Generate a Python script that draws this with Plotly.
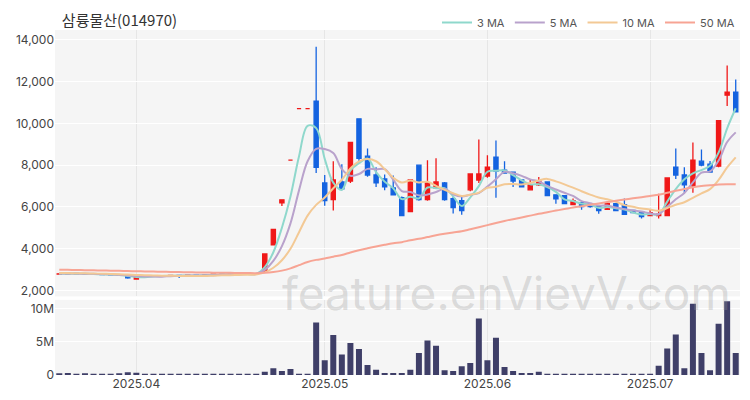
import pandas as pd
import plotly.graph_objects as go
from plotly.subplots import make_subplots

TITLE = "삼륭물산(014970)"

holidays = ["2025-05-01", "2025-05-05", "2025-05-06", "2025-06-03", "2025-06-06"]
days = [d for d in pd.bdate_range("2025-03-19", "2025-07-15").strftime("%Y-%m-%d") if d not in holidays]

# closes before the visible window, only used to warm up the moving averages
hist_close = [3200, 3180, 3190, 3170, 3150, 3160, 3140, 3120, 3130, 3110,
              3100, 3090, 3100, 3080, 3070, 3060, 3070, 3050, 3040, 3030,
              3040, 3020, 3010, 3000, 3010, 2990, 2980, 2970, 2980, 2960,
              2950, 2940, 2950, 2930, 2920, 2910, 2920, 2900, 2890, 2880,
              2890, 2870, 2860, 2850, 2860, 2840, 2830, 2820, 2800]

opens = [2790, 2800, 2820, 2800, 2790, 2770, 2760, 2750, 2720, 2550,
         2630, 2680, 2700, 2710, 2720, 2700, 2730, 2720, 2750, 2780,
         2770, 2780, 2790, 2800, 2880, 4180, 6200, 8240, 10710, 10710,
         11070, 7150, 6350, 7200, 7240, 10220, 8430, 7530, 7340, 6910,
         6440, 5780, 8000, 6350, 6910, 7150, 6400, 6300, 6820, 7290,
         7480, 8380, 7760, 7670, 7290, 6820, 7060, 7200, 6580, 6540,
         6110, 6210, 6160, 6020, 5880, 6160, 6110, 5830, 5780, 5590,
         5590, 5590, 7900, 7530, 7010, 8190, 8050, 7950, 11350, 11500]
highs = [2830, 2850, 2840, 2820, 2810, 2800, 2790, 2770, 2730, 2650,
         2690, 2720, 2730, 2740, 2730, 2740, 2750, 2760, 2790, 2800,
         2790, 2800, 2810, 2830, 3750, 4930, 6340, 8240, 10710, 10710,
         13670, 7530, 8190, 8050, 9100, 10250, 8800, 7900, 7550, 7500,
         6500, 7300, 8000, 8240, 8330, 7200, 6500, 6500, 7600, 9230,
         8470, 9180, 8190, 7700, 7300, 7340, 7430, 7220, 6600, 6560,
         6400, 6220, 6170, 6030, 6200, 6170, 6400, 5840, 5790, 5880,
         6630, 7400, 8800, 7900, 9090, 8750, 8200, 10130, 12770, 12100]
lows = [2770, 2780, 2790, 2770, 2760, 2740, 2730, 2700, 2560, 2530,
        2620, 2660, 2680, 2690, 2600, 2690, 2700, 2710, 2740, 2760,
        2750, 2760, 2770, 2780, 2850, 4180, 6050, 8240, 10710, 10710,
        7620, 6060, 5830, 6800, 7150, 8100, 7450, 6950, 6800, 6550,
        5580, 5780, 6300, 6300, 6900, 6300, 5690, 5630, 6750, 7150,
        7400, 6440, 7600, 6950, 6960, 6800, 7000, 6540, 6150, 6160,
        6100, 5870, 5960, 5680, 5850, 5830, 5640, 5700, 5450, 5580,
        5450, 5590, 7340, 6680, 6680, 7950, 7650, 7900, 10830, 10550]
closes = [2800, 2820, 2800, 2790, 2770, 2760, 2750, 2720, 2600, 2630,
          2680, 2700, 2710, 2720, 2700, 2730, 2720, 2750, 2780, 2770,
          2780, 2790, 2800, 2810, 3750, 4930, 6340, 8240, 10710, 10710,
          7900, 6300, 7290, 6870, 9090, 8330, 7530, 7150, 6960, 6580,
          5590, 7290, 6350, 7150, 7200, 6350, 5970, 5830, 7580, 7580,
          7900, 7720, 7620, 7240, 6960, 7060, 7240, 6540, 6390, 6160,
          6300, 6020, 6020, 5830, 6160, 5830, 5640, 5730, 5540, 5730,
          5650, 7390, 7530, 7060, 8240, 8000, 7670, 10130, 11500, 10550]
volumes = [0.25, 0.3, 0.2, 0.25, 0.2, 0.15, 0.2, 0.25, 0.4, 0.35,
           0.2, 0.15, 0.2, 0.15, 0.2, 0.15, 0.15, 0.1, 0.2, 0.15,
           0.1, 0.15, 0.1, 0.15, 0.5, 1.0, 0.6, 0.9, 0.2, 0.1,
           7.9, 2.2, 6.0, 3.1, 4.8, 3.9, 1.5, 0.8, 0.3, 0.3,
           0.3, 0.8, 3.3, 5.2, 4.4, 0.7, 0.6, 1.3, 1.8, 8.5,
           2.2, 5.6, 1.2, 0.6, 0.3, 0.3, 0.5, 0.2, 0.15, 0.15,
           0.1, 0.15, 0.1, 0.1, 0.15, 0.1, 0.1, 0.15, 0.1, 0.15,
           1.4, 4.0, 6.1, 1.0, 10.7, 3.3, 0.7, 7.7, 11.1, 3.3]

ma_windows = [3, 5, 10, 50]
ma_colors = ["#8fd8cc", "#b9a2cc", "#f3c995", "#f7a494"]

month_ticks = ["2025-04-01", "2025-05-02", "2025-06-02", "2025-07-01"]
month_labels = ["2025.04", "2025.05", "2025.06", "2025.07"]

all_close = pd.Series(hist_close + closes)

fig = make_subplots(rows=2, cols=1, shared_xaxes=True, vertical_spacing=0.01,
                    row_heights=[0.78, 0.22])

fig.add_trace(go.Candlestick(
    x=days, open=opens, high=highs, low=lows, close=closes,
    increasing=dict(line=dict(color="#f01818", width=1.3), fillcolor="#f01818"),
    decreasing=dict(line=dict(color="#1463e0", width=1.3), fillcolor="#1463e0"),
    whiskerwidth=0, showlegend=False, hoverinfo="skip",
), row=1, col=1)

for w, col in zip(ma_windows, ma_colors):
    ma = all_close.rolling(w).mean().iloc[len(hist_close):].tolist()
    fig.add_trace(go.Scatter(x=days, y=ma, mode="lines", name=f"{w} MA",
                             line=dict(color=col, width=2, shape="spline")),
                  row=1, col=1)

fig.add_trace(go.Bar(x=days, y=[v * 1e6 for v in volumes], marker_color="#3f3f68",
                     marker_line_width=0, showlegend=False), row=2, col=1)

# page body has an 8px margin, so the figure is a bit smaller than the window
fig.update_layout(
    width=742, height=392,
    margin=dict(l=47, r=10, t=22, b=25, autoexpand=False),
    paper_bgcolor="white", plot_bgcolor="#f5f5f5",
    font=dict(family="Inter, Noto Sans CJK KR", size=12, color="#444"),
    title=dict(text=TITLE, x=0.01, xref="paper", y=0.968, yref="container",
               xanchor="left", yanchor="middle",
               font=dict(size=15, color="#333", family="Noto Sans CJK KR")),
    legend=dict(orientation="h", x=1, xanchor="right", y=1.0, yref="container",
                yanchor="top", font=dict(size=11, color="#555"), bgcolor="rgba(0,0,0,0)"),
    bargap=0.3, xaxis_rangeslider_visible=False,
)
fig.update_xaxes(type="category", showgrid=True, gridcolor="#e6e6e6", automargin=False,
                 tickvals=month_ticks, ticktext=month_labels, showline=False, zeroline=False)
fig.update_xaxes(showticklabels=False, row=1, col=1)
fig.update_yaxes(range=[1717, 14472], tickvals=[2000, 4000, 6000, 8000, 10000, 12000, 14000],
                 tickformat=",", gridcolor="white", zeroline=False, automargin=False, row=1, col=1)
fig.update_yaxes(range=[0, 11.3e6], tickvals=[0, 5e6, 10e6], ticktext=["0", "5M", "10M"],
                 gridcolor="white", zeroline=False, automargin=False, row=2, col=1)

fig.add_annotation(text="feature.enVievV.com", xref="paper", yref="paper", x=0.99, y=0.15,
                   xanchor="right", showarrow=False,
                   font=dict(size=46, color="rgba(150,150,150,0.3)", family="Inter"))

fig.write_html("out.html")
